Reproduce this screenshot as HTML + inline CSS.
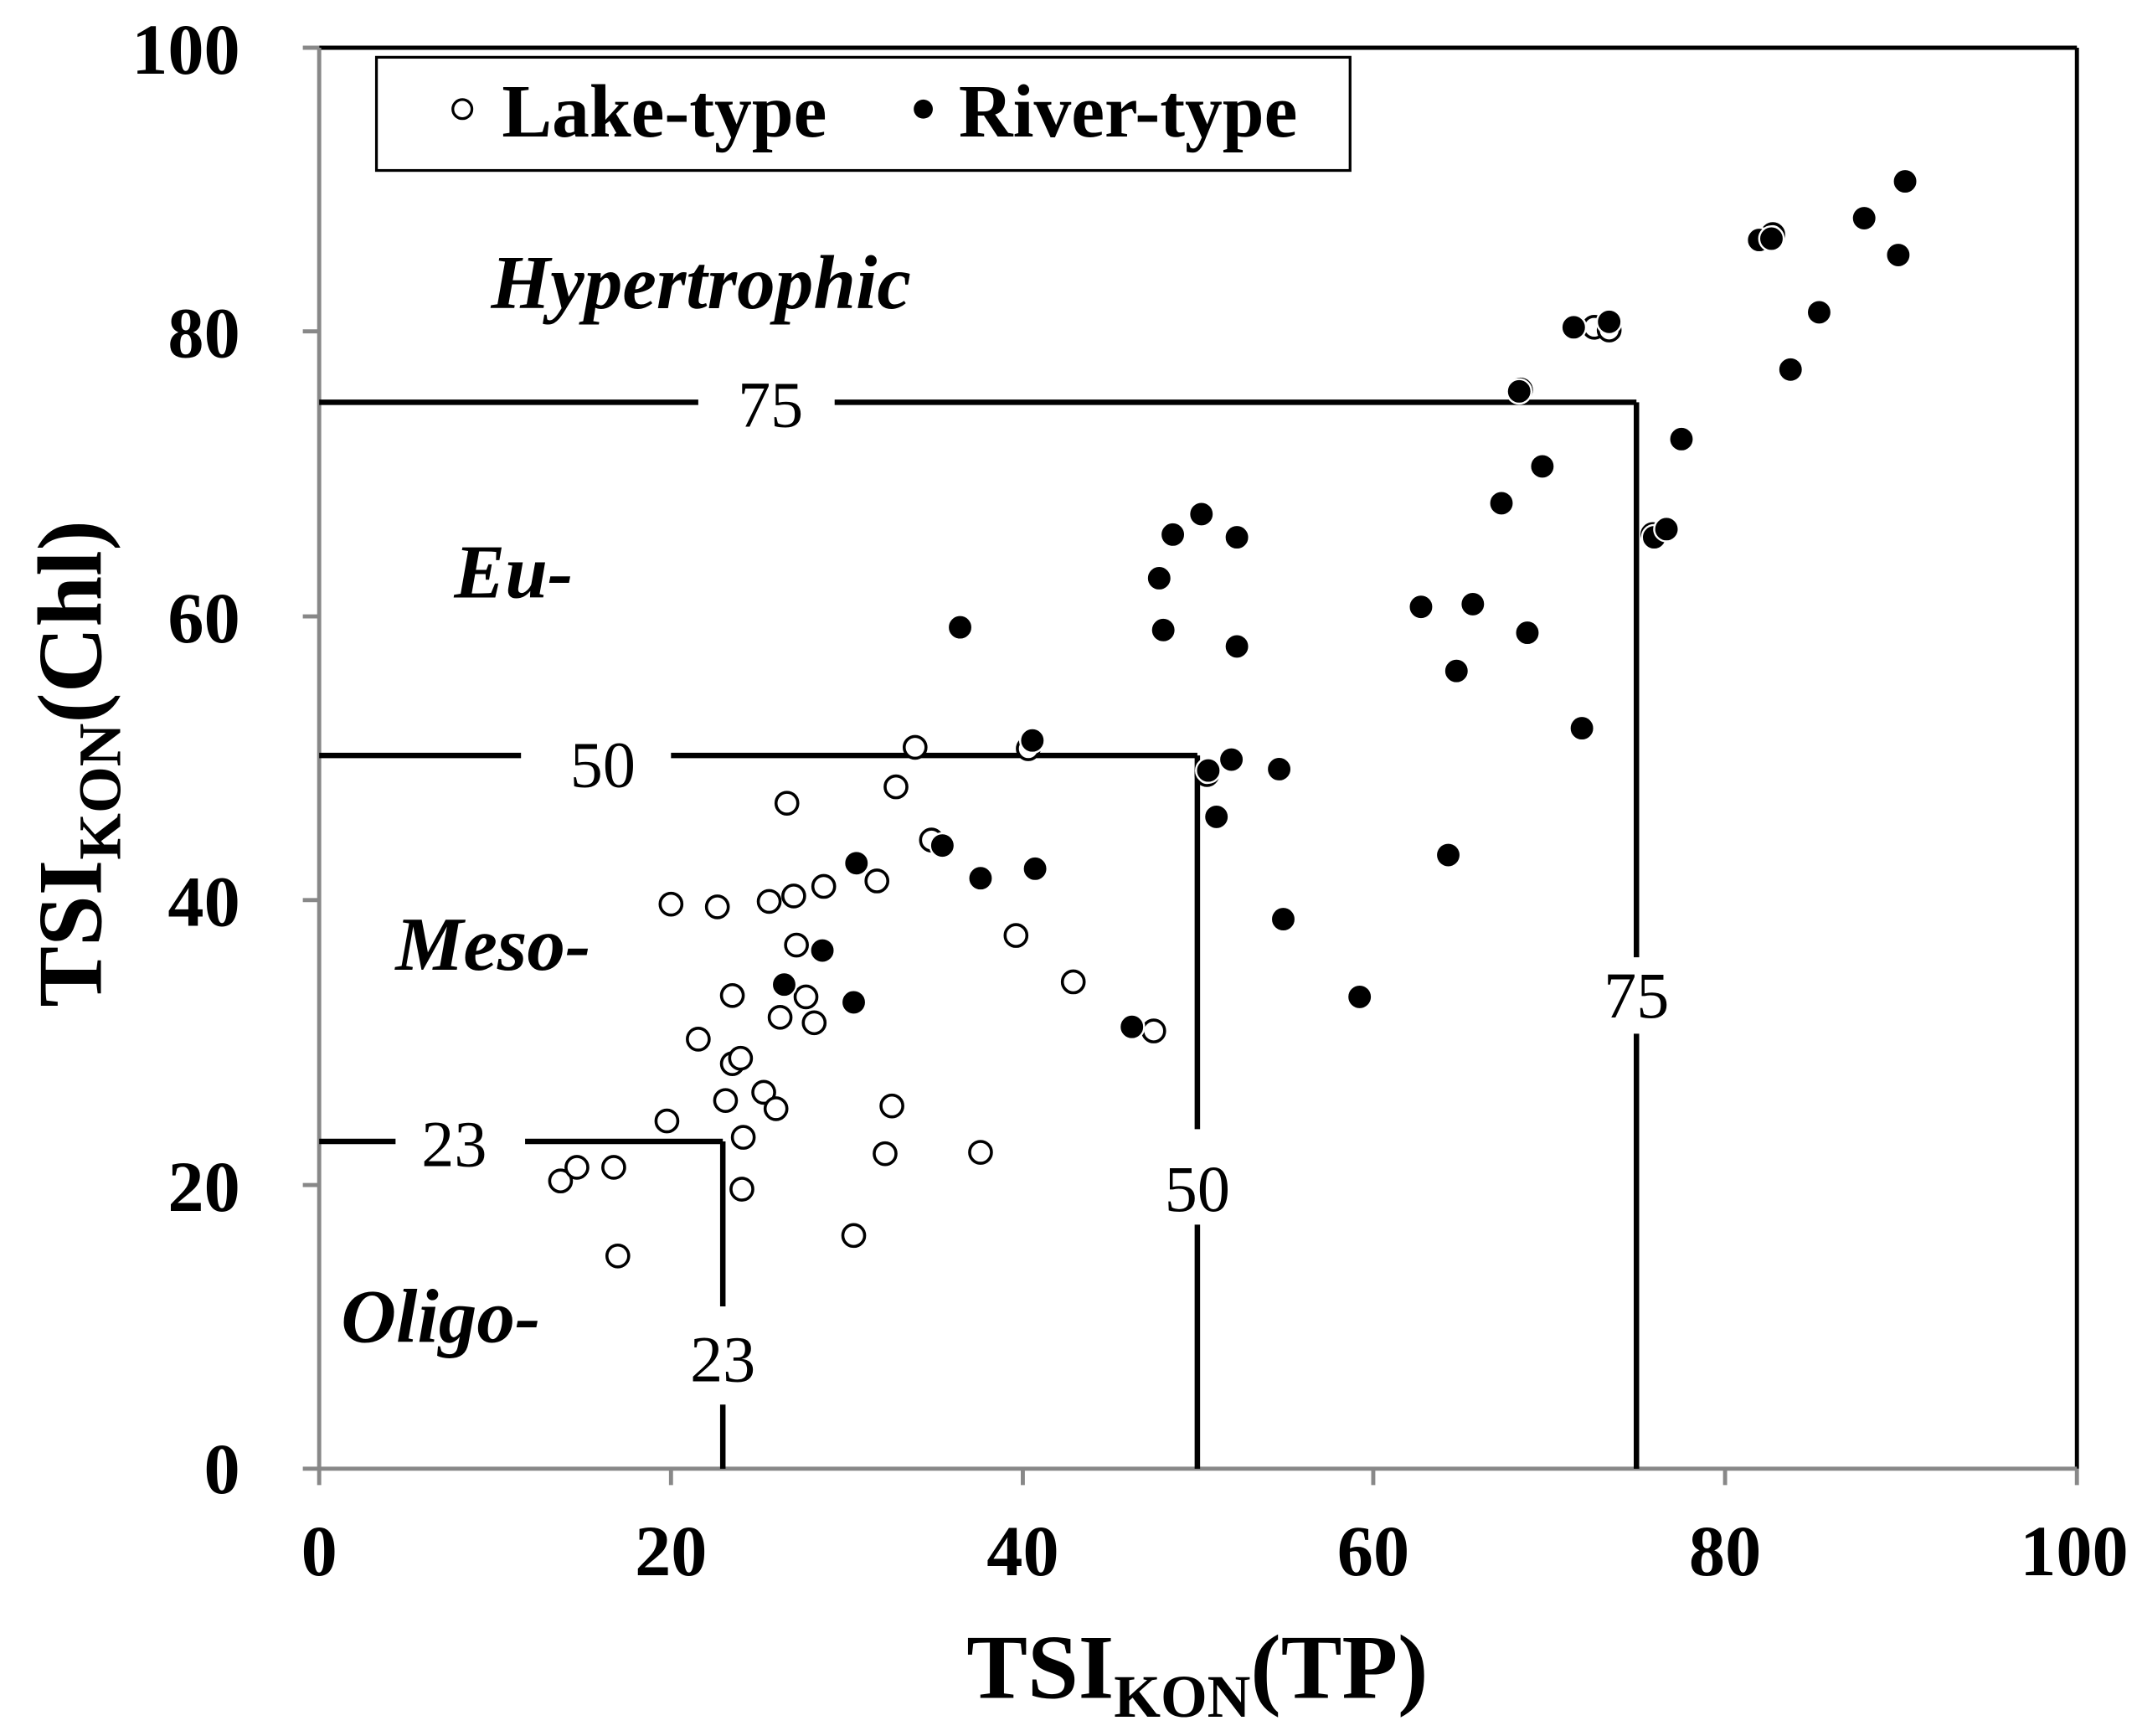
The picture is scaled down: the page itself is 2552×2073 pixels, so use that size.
<!DOCTYPE html>
<html><head><meta charset="utf-8"><style>
html,body{margin:0;padding:0;background:#fff}
svg{display:block}
text{font-family:"Liberation Serif",serif}
</style></head><body>
<svg width="2552" height="2073" viewBox="0 0 1567 1273" xmlns="http://www.w3.org/2000/svg">
<rect width="1567" height="1273" fill="#fff"/>
<line x1="234" y1="35" x2="1523" y2="35" stroke="#000" stroke-width="3"/>
<line x1="1523" y1="35" x2="1523" y2="1077" stroke="#000" stroke-width="3"/>
<line x1="234" y1="35" x2="234" y2="1077" stroke="#888" stroke-width="3"/>
<line x1="234" y1="1077" x2="1523" y2="1077" stroke="#888" stroke-width="3"/>
<g stroke="#888" stroke-width="3">
<line x1="222" y1="35" x2="234" y2="35"/><line x1="222" y1="243" x2="234" y2="243"/><line x1="222" y1="452" x2="234" y2="452"/><line x1="222" y1="660" x2="234" y2="660"/><line x1="222" y1="869" x2="234" y2="869"/><line x1="222" y1="1077" x2="234" y2="1077"/>
<line x1="234" y1="1077" x2="234" y2="1089"/><line x1="492" y1="1077" x2="492" y2="1089"/><line x1="750" y1="1077" x2="750" y2="1089"/><line x1="1007" y1="1077" x2="1007" y2="1089"/><line x1="1265" y1="1077" x2="1265" y2="1089"/><line x1="1523" y1="1077" x2="1523" y2="1089"/>
</g>
<g font-size="53" font-weight="bold" text-anchor="end">
<text x="176" y="54">100</text><text x="176" y="262">80</text><text x="176" y="471">60</text><text x="176" y="679">40</text><text x="176" y="888">20</text><text x="176" y="1095">0</text>
</g>
<g font-size="53" font-weight="bold" text-anchor="middle">
<text x="234" y="1155">0</text><text x="492" y="1155">20</text><text x="750" y="1155">40</text><text x="1007" y="1155">60</text><text x="1265" y="1155">80</text><text x="1521" y="1155">100</text>
</g>
<text x="878" y="1245" font-size="67" font-weight="bold" text-anchor="middle">TSI<tspan font-size="44" dy="14">KON</tspan><tspan dy="-14">(TP)</tspan></text>
<text transform="translate(74,560) rotate(-90)" font-size="67" font-weight="bold" text-anchor="middle">TSI<tspan font-size="44" dy="14">KON</tspan><tspan dy="-14">(Chl)</tspan></text>
<g stroke="#000" stroke-width="4" fill="none">
<line x1="234" y1="295" x2="512" y2="295"/><line x1="612" y1="295" x2="1200" y2="295"/>
<line x1="1200" y1="295" x2="1200" y2="702"/><line x1="1200" y1="758" x2="1200" y2="1077"/>
<line x1="234" y1="554" x2="382" y2="554"/><line x1="492" y1="554" x2="878" y2="554"/>
<line x1="878" y1="554" x2="878" y2="828"/><line x1="878" y1="898" x2="878" y2="1077"/>
<line x1="234" y1="837" x2="290" y2="837"/><line x1="385" y1="837" x2="530" y2="837"/>
<line x1="530" y1="837" x2="530" y2="958"/><line x1="530" y1="1030" x2="530" y2="1077"/>
</g>
<g font-size="48" text-anchor="middle">
<text x="565" y="313">75</text><text x="1200" y="746">75</text>
<text x="442" y="577">50</text><text x="878" y="888">50</text>
<text x="333" y="855">23</text><text x="530" y="1013">23</text>
</g>
<g font-size="56" font-weight="bold" font-style="italic">
<text x="360" y="226">Hypertrophic</text><text x="333" y="438">Eu-</text><text x="290" y="711">Meso-</text><text x="250" y="984">Oligo-</text>
</g>
<rect x="276" y="42" width="714" height="83" fill="#fff" stroke="#000" stroke-width="2"/>
<circle cx="339" cy="80" r="7" fill="#fff" stroke="#000" stroke-width="2"/>
<text x="368" y="100" font-size="55" font-weight="bold">Lake-type</text>
<circle cx="677" cy="80" r="7" fill="#000"/>
<text x="703" y="100" font-size="55" font-weight="bold">River-type</text>
<g fill="#fff" stroke="#000" stroke-width="2.2">
<circle cx="411" cy="866" r="8"/><circle cx="423" cy="856" r="8"/><circle cx="450" cy="856" r="8"/><circle cx="453" cy="921" r="8"/><circle cx="489" cy="822" r="8"/><circle cx="492" cy="663" r="8"/><circle cx="526" cy="665" r="8"/><circle cx="512" cy="762" r="8"/><circle cx="532" cy="807" r="8"/><circle cx="537" cy="730" r="8"/><circle cx="537" cy="780" r="8"/><circle cx="543" cy="776" r="8"/><circle cx="545" cy="834" r="8"/><circle cx="544" cy="872" r="8"/><circle cx="560" cy="801" r="8"/><circle cx="564" cy="661" r="8"/><circle cx="569" cy="813" r="8"/><circle cx="572" cy="746" r="8"/><circle cx="577" cy="589" r="8"/><circle cx="582" cy="657" r="8"/><circle cx="584" cy="693" r="8"/><circle cx="591" cy="731" r="8"/><circle cx="597" cy="750" r="8"/><circle cx="604" cy="650" r="8"/><circle cx="643" cy="646" r="8"/><circle cx="626" cy="906" r="8"/><circle cx="649" cy="846" r="8"/><circle cx="654" cy="811" r="8"/><circle cx="657" cy="577" r="8"/><circle cx="671" cy="548" r="8"/><circle cx="719" cy="845" r="8"/><circle cx="745" cy="686" r="8"/><circle cx="787" cy="720" r="8"/><circle cx="846" cy="756" r="8"/><circle cx="754" cy="549" r="8"/><circle cx="683" cy="616" r="8"/><circle cx="1169" cy="240" r="8"/><circle cx="1180" cy="242" r="8"/><circle cx="885" cy="568" r="8"/><circle cx="1115" cy="286" r="8"/><circle cx="1212" cy="392" r="8"/><circle cx="1300" cy="172" r="8"/>
</g>
<g fill="#000" stroke="#fff" stroke-width="1.5">
<circle cx="704" cy="460" r="9"/><circle cx="757" cy="543" r="9"/><circle cx="628" cy="633" r="9"/><circle cx="603" cy="697" r="9"/><circle cx="575" cy="722" r="9"/><circle cx="626" cy="735" r="9"/><circle cx="691" cy="620" r="9"/><circle cx="719" cy="644" r="9"/><circle cx="759" cy="637" r="9"/><circle cx="830" cy="753" r="9"/><circle cx="850" cy="424" r="9"/><circle cx="853" cy="462" r="9"/><circle cx="860" cy="392" r="9"/><circle cx="881" cy="377" r="9"/><circle cx="907" cy="394" r="9"/><circle cx="907" cy="474" r="9"/><circle cx="903" cy="557" r="9"/><circle cx="886" cy="565" r="9"/><circle cx="892" cy="599" r="9"/><circle cx="938" cy="564" r="9"/><circle cx="941" cy="674" r="9"/><circle cx="997" cy="731" r="9"/><circle cx="1042" cy="445" r="9"/><circle cx="1068" cy="492" r="9"/><circle cx="1080" cy="443" r="9"/><circle cx="1062" cy="627" r="9"/><circle cx="1101" cy="369" r="9"/><circle cx="1120" cy="464" r="9"/><circle cx="1131" cy="342" r="9"/><circle cx="1160" cy="534" r="9"/><circle cx="1114" cy="287" r="9"/><circle cx="1154" cy="240" r="9"/><circle cx="1180" cy="236" r="9"/><circle cx="1213" cy="394" r="9"/><circle cx="1222" cy="388" r="9"/><circle cx="1233" cy="322" r="9"/><circle cx="1290" cy="176" r="9"/><circle cx="1299" cy="175" r="9"/><circle cx="1313" cy="271" r="9"/><circle cx="1334" cy="229" r="9"/><circle cx="1367" cy="160" r="9"/><circle cx="1392" cy="187" r="9"/><circle cx="1397" cy="133" r="9"/>
</g>
</svg>
</body></html>
